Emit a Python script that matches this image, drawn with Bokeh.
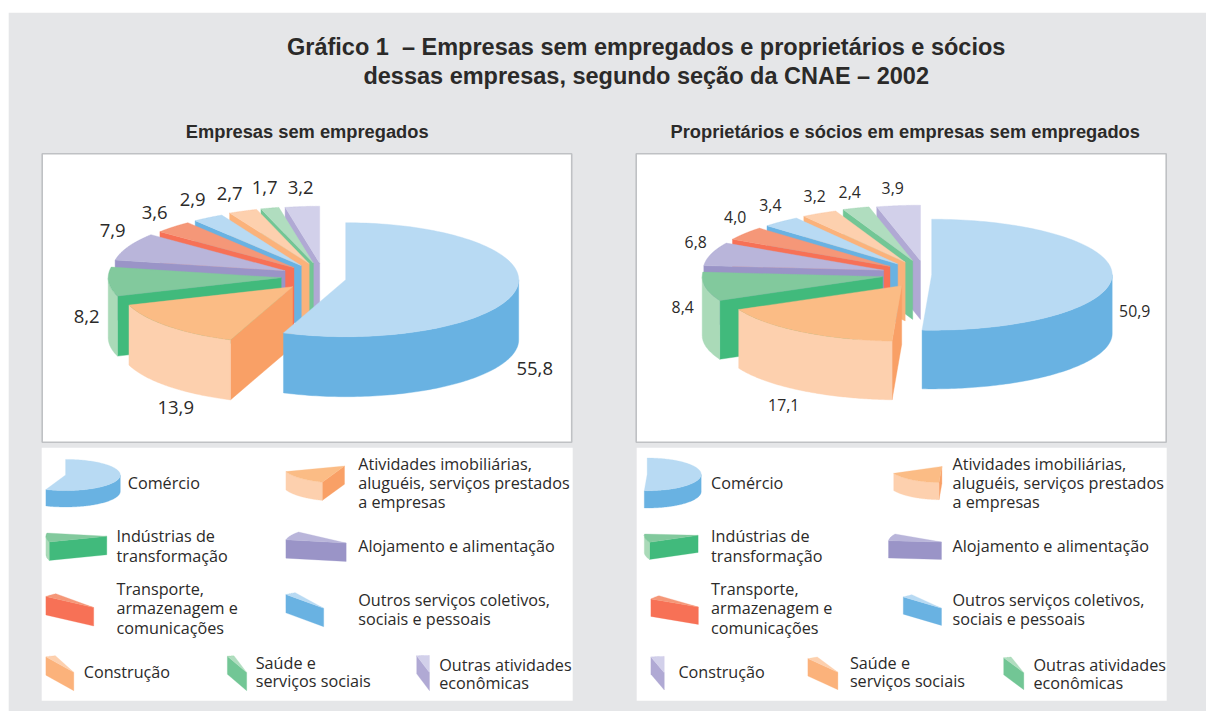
import numpy as np
from bokeh.plotting import figure
from bokeh.models import Range1d
from bokeh.core.properties import value
from bokeh.embed import file_html
from bokeh.resources import INLINE

# ---------- data ----------
TITLE_LINES = ["Gráfico 1\u00a0 – Empresas sem empregados e proprietários e sócios",
               "dessas empresas, segundo seção da CNAE – 2002"]
SUB_LEFT = "Empresas sem empregados"
SUB_RIGHT = "Proprietários e sócios em empresas sem empregados"

cats_left = ["Comércio", "Atividades", "Indústrias", "Alojamento", "Transporte",
             "Outros", "Construção", "Saúde", "Outras"]
vals_left = [55.8, 13.9, 8.2, 7.9, 3.6, 2.9, 2.7, 1.7, 3.2]
cats_right = ["Comércio", "Atividades", "Indústrias", "Alojamento", "Transporte",
              "Outros", "Saúde", "Outras", "Construção"]
vals_right = [50.9, 17.1, 8.4, 6.8, 4.0, 3.4, 3.2, 2.4, 3.9]

# slice colours by role: top / outer wall / cut face
red_tone = ("#F59778", "#F59778", "#F77156")
blue_tone = ("#B8DAF3", "#69B2E2", "#69B2E2")
peach_tone = ("#FDD0AE", "#FDD0AE", "#FBB27B")
green_tone = ("#B0DDBF", "#B0DDBF", "#72C695")
lilac_tone = ("#D2D0EA", "#D2D0EA", "#B0A9D4")
tones_left = [blue_tone, ("#FBBC85", "#FDD0AE", "#F9A066"), ("#82C99D", "#AADAB8", "#41BA7C"),
              ("#B9B5DA", "#B9B5DA", "#9A94C7"), red_tone, blue_tone, peach_tone, green_tone, lilac_tone]
tones_right = tones_left[:6] + [peach_tone, green_tone, lilac_tone]

# ---------- layout ----------
BG = "#E5E6E8"
INK = "#2B2A29"
BODY = "Open Sans"
HEAD = "Liberation Sans"

pie_left = dict(rx=173, ry=57, depth=60)
pie_right = dict(rx=180.5, ry=55.5, depth=58.7)
# where each exploded slice's apex sits
apex_left = [(346, 280), (293, 287), (281.5, 278), (285.4, 271), (294.3, 268),
             (301.6, 266), (309.5, 264), (313.7, 263.5), (320, 263.5)]
apex_right = [(932, 275), (902, 286), (883, 277), (884, 270.5), (890.3, 266.7),
              (898, 264.3), (905.5, 262.5), (913, 261), (920.8, 261)]
label_xy_left = [(535, 369), (176, 408), (87, 317), (113, 231), (155, 213),
                 (193, 200), (230, 194), (265, 188), (301, 188)]
label_xy_right = [(1135, 311), (784, 405), (683, 307), (696, 242), (735.5, 217),
                  (770.7, 205), (815, 196), (850, 192), (893, 188)]
icons_left = [(46.2, 120.6, 459.7, 507.3), (286.2, 344.8, 466.3, 500.7), (46.2, 107.1, 533.3, 560.7),
              (286.2, 346.5, 532.3, 561.7), (46.2, 94, 594, 626.3), (286.2, 324, 593, 627),
              (46.2, 74.1, 656, 691), (227.7, 247, 656, 691), (417, 429.8, 655.7, 691)]
icons_right = [(644.6, 701.5, 458.3, 508.3), (894, 942.2, 466.7, 500), (644.6, 698.4, 534.3, 559.7),
               (888.8, 941.8, 534.3, 559.7), (651.2, 698.7, 596, 624.7), (903.6, 941.8, 595, 625.7),
               (808.2, 838.2, 657.3, 690), (1004, 1024.1, 657.3, 690), (651.2, 664.6, 656.7, 690.3)]
legend_left = [
    (128, 483, "Comércio"),
    (358.5, 464, "Atividades imobiliárias,"), (358.5, 483, "aluguéis, serviços prestados"), (358.5, 502, "a empresas"),
    (116.8, 536.7, "Indústrias de"), (116.8, 556, "transformação"),
    (358.5, 546, "Alojamento e alimentação"),
    (116.8, 589, "Transporte,"), (116.8, 608.7, "armazenagem e"), (116.8, 628, "comunicações"),
    (358.5, 600, "Outros serviços coletivos,"), (358.5, 619, "sociais e pessoais"),
    (84, 672.7, "Construção"),
    (256, 663, "Saúde e"), (256, 681.7, "serviços sociais"),
    (439.5, 665, "Outras atividades"), (439.5, 683.7, "econômicas"),
]
legend_right = [
    (711.4, 483, "Comércio"),
    (952.8, 464, "Atividades imobiliárias,"), (952.8, 483, "aluguéis, serviços prestados"), (952.8, 502, "a empresas"),
    (711.4, 536.7, "Indústrias de"), (711.4, 556, "transformação"),
    (952.8, 546, "Alojamento e alimentação"),
    (711.4, 589, "Transporte,"), (711.4, 608.7, "armazenagem e"), (711.4, 628, "comunicações"),
    (952.8, 600, "Outros serviços coletivos,"), (952.8, 619, "sociais e pessoais"),
    (678.7, 672.7, "Construção"),
    (850.2, 663, "Saúde e"), (850.2, 681.7, "serviços sociais"),
    (1033.8, 665, "Outras atividades"), (1033.8, 683.7, "econômicas"),
]

p = figure(width=1206, height=711, x_range=Range1d(0.8, 1206.8), y_range=Range1d(711.8, 0.8),
           toolbar_location=None, output_backend="svg", min_border=0,
           background_fill_color="white", border_fill_color="white", outline_line_color=None)
p.axis.visible = False
p.grid.visible = False


def slice_polys(cx, cy, rx, ry, d, a0, a1):
    """Polygons (colour index, xs, ys) of one extruded slice; angles clockwise from 12 o'clock."""
    polys = []
    rim = lambda t: (cx + rx * np.sin(np.radians(t)), cy - ry * np.cos(np.radians(t)))
    if 180 <= a0 < 360:                       # cut face turned towards the viewer
        ox, oy = rim(a0)
        polys.append((2, [cx, ox, ox, cx], [cy, oy, oy + d, cy + d]))
    w0, w1 = max(a0, 90), min(a1, 270)
    if w1 > w0:                               # outer wall
        t = np.linspace(w0, w1, 90)
        ox, oy = rim(t)
        polys.append((1, list(ox) + list(ox[::-1]), list(oy) + list((oy + d)[::-1])))
    t = np.linspace(a0, a1, 120)
    ox, oy = rim(t)
    polys.append((0, [cx] + list(ox), [cy] + list(oy)))
    return polys


def draw_pie(vals, tones, apexes, geo, labels_xy, icons, size):
    edges = np.concatenate([[0], np.cumsum(vals)]) / sum(vals) * 360
    order = list(range(len(vals) - 1, 0, -1)) + [0]
    for i in order:
        cx, cy = apexes[i]
        for c, xs, ys in slice_polys(cx, cy, geo["rx"], geo["ry"], geo["depth"], edges[i], edges[i + 1]):
            p.patch(xs, ys, fill_color=tones[i][c], line_color=tones[i][c], line_width=0.4)
    for i in range(len(vals)):
        # legend icon: the same slice, fitted to its key box
        polys = slice_polys(0, 0, geo["rx"], geo["ry"], geo["depth"], edges[i], edges[i + 1])
        ax = np.concatenate([q[1] for q in polys])
        ay = np.concatenate([q[2] for q in polys])
        x0, x1, y0, y1 = icons[i]
        for c, xs, ys in polys:
            xs2 = x0 + (np.array(xs) - ax.min()) / (ax.max() - ax.min()) * (x1 - x0)
            ys2 = y0 + (np.array(ys) - ay.min()) / (ay.max() - ay.min()) * (y1 - y0)
            p.patch(list(xs2), list(ys2), fill_color=tones[i][c], line_color=tones[i][c], line_width=0.3)
    p.text([q[0] for q in labels_xy], [q[1] for q in labels_xy],
           text=[f"{v:.1f}".replace(".", ",") for v in vals],
           text_font=value(BODY), text_font_size=size, text_color=INK,
           text_align="center", text_baseline="middle")


# grey sheet and panels
p.quad(left=9, right=1212, top=13, bottom=716, fill_color=BG, line_color=None)
for x0, x1 in [(42.5, 572), (636.5, 1166.5)]:
    p.quad(left=x0, right=x1, top=154, bottom=442.5, fill_color="white", line_color="#BFC1C4", line_width=1.6)
for x0, x1 in [(42, 573), (637, 1167)]:
    p.quad(left=x0, right=x1, top=448, bottom=701, fill_color="white", line_color=None)

draw_pie(vals_left, tones_left, apex_left, pie_left, label_xy_left, icons_left, "18.5px")
draw_pie(vals_right, tones_right, apex_right, pie_right, label_xy_right, icons_right, "15.8px")

for rows in (legend_left, legend_right):
    p.text([r[0] for r in rows], [r[1] for r in rows], text=[r[2] for r in rows],
           text_font=value(BODY), text_font_size="16.2px", text_color=INK,
           text_align="left", text_baseline="middle")

p.text([646.5, 646.5], [47, 76], text=TITLE_LINES, text_font=value(HEAD), text_font_style="bold",
       text_font_size="23.5px", text_color=INK, text_align="center", text_baseline="middle")
p.text([307.5, 905.5], [132, 132], text=[SUB_LEFT, SUB_RIGHT], text_font=value(HEAD), text_font_style="bold",
       text_font_size="18.3px", text_color=INK, text_align="center", text_baseline="middle")

open("out.html", "w").write(file_html(p, INLINE))
